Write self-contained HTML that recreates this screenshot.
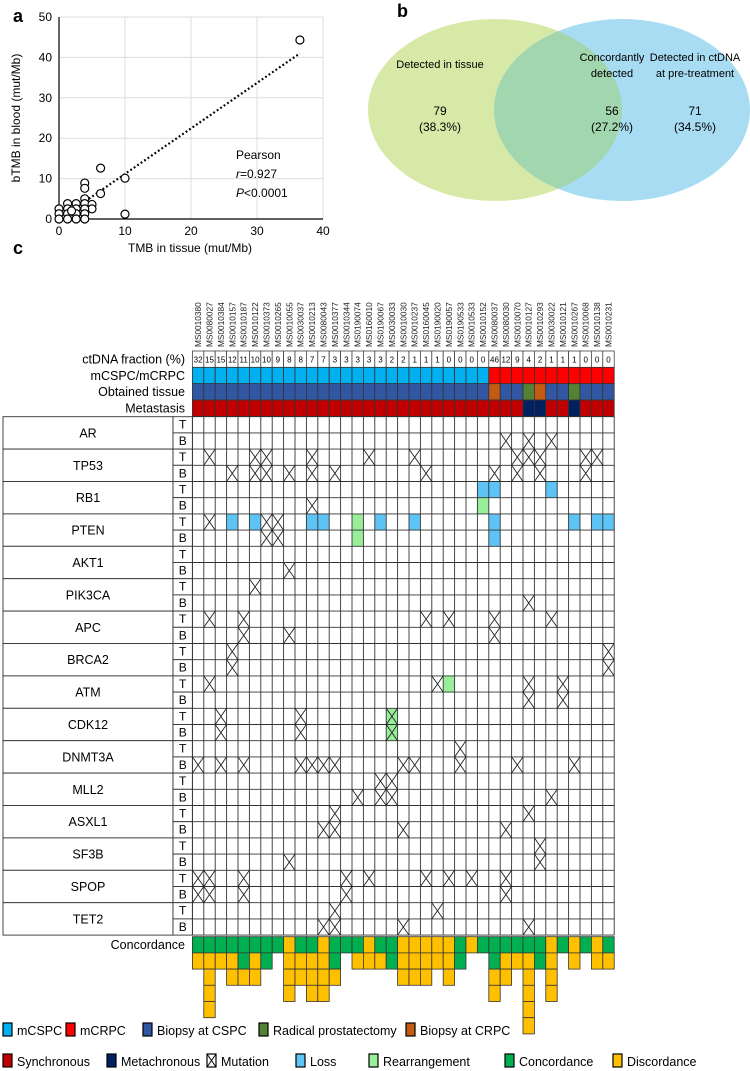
<!DOCTYPE html>
<html><head><meta charset="utf-8"><style>
body{margin:0;background:#fff;}
svg{display:block;font-family:"Liberation Sans",sans-serif;}
</style></head><body>
<svg id="fig" width="750" height="1071" viewBox="0 0 750 1071" xmlns="http://www.w3.org/2000/svg">
<defs><clipPath id="clipGreen"><ellipse cx="495" cy="110" rx="127" ry="91"/></clipPath></defs>
<g id="pa"></g>
<g id="pb"></g>
<g id="pc"></g>
<g id="lg"></g>
</svg>
<script>
// ---------- Panel a data ----------
const tissueTMB = [36.5,6.3,10,10,6.3,3.9,3.9,3.9,3.9,5,5,3.9,3.9,3.9,2.6,2.6,2.6,2.6,1.3,1.3,1.3,0,0,0,1.3,1.9];
const bloodTMB  = [44.3,12.6,10.1,1.2,6.3,8.9,7.6,5,3.8,3.6,2.5,2.5,1.3,0,3.8,2.5,1.3,0,3.8,2.5,1.3,2.5,1.3,0,0,2.0];
const xTicksA = [0,10,20,30,40];
const yTicksA = [0,10,20,30,40,50];
const trendX = [4,36.5];
const trendY = [4.4,41];

// ---------- Panel b data ----------
const vennCounts = [79,56,71];
const vennPct = ["(38.3%)","(27.2%)","(34.5%)"];

// ---------- Panel c data ----------
const sampleIds = ["MS0010380","MS0080027","MS0010384","MS0010157","MS0010187","MS0010122","MS0010373","MS0010265","MS0010055","MS0030037","MS0010213","MS0080043","MS0010377","MS0010344","MS0190074","MS0160010","MS0190067","MS0030033","MS0010030","MS0010237","MS0160045","MS0190020","MS0190057","MS0190533","MS0010533","MS0010152","MS0080037","MS0080030","MS0010070","MS0010127","MS0010293","MS0030022","MS0010121","MS0010267","MS0010068","MS0010138","MS0010231"];
const ctdnaFraction = [32,15,15,12,11,10,10,9,8,8,7,7,3,3,3,3,3,2,2,1,1,1,0,0,0,0,46,12,9,4,2,1,1,1,0,0,0];
const stage = [0,0,0,0,0,0,0,0,0,0,0,0,0,0,0,0,0,0,0,0,0,0,0,0,0,0,1,1,1,1,1,1,1,1,1,1,1];
const tissueType = [0,0,0,0,0,0,0,0,0,0,0,0,0,0,0,0,0,0,0,0,0,0,0,0,0,0,2,0,0,1,2,0,0,1,0,0,0];
const metastasis = [0,0,0,0,0,0,0,0,0,0,0,0,0,0,0,0,0,0,0,0,0,0,0,0,0,0,0,0,0,1,1,0,0,1,0,0,0];
const genes = ["AR","TP53","RB1","PTEN","AKT1","PIK3CA","APC","BRCA2","ATM","CDK12","DNMT3A","MLL2","ASXL1","SF3B","SPOP","TET2"];
const events = [
[0,1,27,"X"],[0,1,29,"X"],[0,1,31,"X"],
[1,0,1,"X"],[1,0,5,"X"],[1,0,6,"X"],[1,0,10,"X"],[1,0,15,"X"],[1,0,19,"X"],[1,0,28,"X"],[1,0,29,"X"],[1,0,30,"X"],[1,0,34,"X"],[1,0,35,"X"],
[1,1,3,"X"],[1,1,5,"X"],[1,1,6,"X"],[1,1,8,"X"],[1,1,10,"X"],[1,1,12,"X"],[1,1,20,"X"],[1,1,26,"X"],[1,1,28,"X"],[1,1,30,"X"],[1,1,34,"X"],
[2,0,25,"L"],[2,0,26,"L"],[2,0,31,"L"],[2,1,10,"X"],[2,1,25,"R"],
[3,0,1,"X"],[3,0,6,"X"],[3,0,7,"X"],[3,0,3,"L"],[3,0,5,"L"],[3,0,10,"L"],[3,0,11,"L"],[3,0,16,"L"],[3,0,19,"L"],[3,0,26,"L"],[3,0,33,"L"],[3,0,35,"L"],[3,0,36,"L"],[3,0,14,"R"],
[3,1,6,"X"],[3,1,7,"X"],[3,1,14,"R"],[3,1,26,"L"],
[4,1,8,"X"],
[5,0,5,"X"],[5,1,29,"X"],
[6,0,1,"X"],[6,0,4,"X"],[6,0,20,"X"],[6,0,22,"X"],[6,0,26,"X"],[6,0,31,"X"],[6,1,4,"X"],[6,1,8,"X"],[6,1,26,"X"],
[7,0,3,"X"],[7,0,36,"X"],[7,1,3,"X"],[7,1,36,"X"],
[8,0,1,"X"],[8,0,21,"X"],[8,0,29,"X"],[8,0,32,"X"],[8,0,22,"R"],[8,1,29,"X"],[8,1,32,"X"],
[9,0,2,"X"],[9,0,9,"X"],[9,0,17,"RX"],[9,1,2,"X"],[9,1,9,"X"],[9,1,17,"RX"],
[10,0,23,"X"],[10,1,0,"X"],[10,1,2,"X"],[10,1,4,"X"],[10,1,9,"X"],[10,1,10,"X"],[10,1,11,"X"],[10,1,12,"X"],[10,1,18,"X"],[10,1,19,"X"],[10,1,23,"X"],[10,1,28,"X"],[10,1,33,"X"],
[11,0,16,"X"],[11,0,17,"X"],[11,1,14,"X"],[11,1,16,"X"],[11,1,17,"X"],[11,1,31,"X"],
[12,0,12,"X"],[12,0,29,"X"],[12,1,11,"X"],[12,1,12,"X"],[12,1,18,"X"],[12,1,27,"X"],
[13,0,30,"X"],[13,1,8,"X"],[13,1,30,"X"],
[14,0,0,"X"],[14,0,1,"X"],[14,0,4,"X"],[14,0,13,"X"],[14,0,15,"X"],[14,0,20,"X"],[14,0,22,"X"],[14,0,24,"X"],[14,0,27,"X"],
[14,1,0,"X"],[14,1,1,"X"],[14,1,4,"X"],[14,1,13,"X"],[14,1,27,"X"],
[15,0,12,"X"],[15,0,21,"X"],[15,1,11,"X"],[15,1,12,"X"],[15,1,18,"X"],[15,1,29,"X"]
];
const concordCount = [1,1,1,1,2,1,2,1,0,1,1,0,2,1,1,0,1,2,0,0,0,0,0,2,0,1,2,1,1,1,2,0,1,0,1,0,1];
const discordCount = [1,4,1,2,1,2,0,0,4,2,3,4,1,0,1,2,1,0,3,3,3,2,3,0,1,0,2,2,1,5,0,4,0,2,0,2,1];

const NS="http://www.w3.org/2000/svg";
function mk(parent,tag,attrs,text){const e=document.createElementNS(NS,tag);for(const k in attrs)e.setAttribute(k,attrs[k]);if(text!==undefined)e.textContent=text;parent.appendChild(e);return e;}

// ===== Panel a =====
(function(){
const g=document.getElementById('pa');
const X0=59,XS=6.6,Y0=219,YS=4.04;
const sx=v=>X0+v*XS, sy=v=>Y0-v*YS;
let t=mk(g,'text',{x:13,y:22,'font-size':18,'font-weight':'bold'},'a');


xTicksA.forEach(v=>{
 if(v>0){let l=mk(g,'line',{x1:sx(v),x2:sx(v),y1:sy(50),y2:Y0,stroke:'#ddd','stroke-width':1});
 }
 let tx=mk(g,'text',{x:sx(v),y:Y0+16,'font-size':12,'text-anchor':'middle'},String(v));
 
 
});
yTicksA.forEach(v=>{
 if(v>0){let l=mk(g,'line',{x1:X0,x2:sx(40),y1:sy(v),y2:sy(v),stroke:'#ddd','stroke-width':1});
 }
 let ty=mk(g,'text',{x:X0-7,y:sy(v)+4,'font-size':12,'text-anchor':'end'},String(v));
 
 
});
let ax=mk(g,'line',{x1:X0,x2:X0,y1:sy(50),y2:Y0,stroke:'#000','stroke-width':1.2});

let ax2=mk(g,'line',{x1:X0,x2:sx(40),y1:Y0,y2:Y0,stroke:'#000','stroke-width':1.2});

let xt=mk(g,'text',{x:190,y:252,'font-size':12,'text-anchor':'middle'},'TMB in tissue (mut/Mb)');

let yt=mk(g,'text',{x:0,y:0,'font-size':12,'text-anchor':'middle',transform:'translate(20,118) rotate(-90)'},'bTMB in blood (mut/Mb)');

let tl=mk(g,'line',{x1:sx(trendX[0]),y1:sy(trendY[0]),x2:sx(trendX[1]),y2:sy(trendY[1]),stroke:'#000','stroke-width':2.2,'stroke-dasharray':'1.8 2.4'});

tissueTMB.forEach((v,i)=>{
 let c=mk(g,'circle',{cx:sx(v),cy:sy(bloodTMB[i]),r:4,fill:'#fff',stroke:'#000','stroke-width':1.2});
 
 
});
[['Pearson',false,159],['r=0.927',true,178],['P<0.0001',true,197]].forEach(a=>{
 let e=mk(g,'text',{x:236,y:a[2],'font-size':12});
 if(a[1]){mk(e,'tspan',{'font-style':'italic'},a[0][0]);mk(e,'tspan',{},a[0].slice(1));}else e.textContent=a[0];
 
});
})();

// ===== Panel b =====
(function(){
const g=document.getElementById('pb');
let t=mk(g,'text',{x:397,y:17,'font-size':18,'font-weight':'bold'},'b');

let e1=mk(g,'ellipse',{cx:495,cy:110,rx:127,ry:91,fill:'#d7e9a6'});

let e2=mk(g,'ellipse',{cx:622,cy:110,rx:128,ry:91,fill:'#a8dcf3'});

let e3=mk(g,'ellipse',{cx:622,cy:110,rx:128,ry:91,fill:'#a2d6ae','clip-path':'url(#clipGreen)'});

const labels=[[440,["Detected in tissue"]],[612,["Concordantly","detected"]],[695,["Detected in ctDNA","at pre-treatment"]]];
labels.forEach((L,i)=>{
 L[1].forEach((s,j)=>{let tx=mk(g,'text',{x:L[0],y:(L[1].length==1?68:61)+j*16,'font-size':11,'text-anchor':'middle'},s);
 });
 let n=mk(g,'text',{x:L[0],y:115,'font-size':12,'text-anchor':'middle'},String(vennCounts[i]));
 
 let p=mk(g,'text',{x:L[0],y:131,'font-size':12,'text-anchor':'middle'},vennPct[i]);
 
});
})();

// ===== Panel c =====
(function(){
const g=document.getElementById('pc');
const GX=192.4, CW=11.4, HY=351, HH=16.35, RY=416.7, RH=16.2, CY=936.7;
const colX=i=>GX+i*CW;
let t=mk(g,'text',{x:13,y:254,'font-size':18,'font-weight':'bold'},'c');

sampleIds.forEach((s,i)=>{
 let tx=mk(g,'text',{x:0,y:0,'font-size':8.3,fill:'#222',transform:`translate(${colX(i)+CW/2+3},347) rotate(-90)`},s);
 
});
const hdr=["ctDNA fraction (%)","mCSPC/mCRPC","Obtained tissue","Metastasis"];
hdr.forEach((h,r)=>{let tx=mk(g,'text',{x:185,y:HY+r*HH+12.5,'font-size':12.5,'text-anchor':'end'},h);
 });
const stageCol=['#00b0f0','#ff0000'], tisCol=['#3157a3','#548235','#c55a11'], metCol=['#c00000','#002060'];
ctdnaFraction.forEach((v,i)=>{
 let r=mk(g,'rect',{x:colX(i),y:HY,width:CW,height:HH,fill:'#fff',stroke:'#444','stroke-width':0.8});
 
 let tx=mk(g,'text',{x:colX(i)+CW/2,y:HY+11.5,'font-size':8,'text-anchor':'middle'},String(v));
 
 let a=mk(g,'rect',{x:colX(i),y:HY+HH,width:CW,height:HH,fill:stageCol[stage[i]],stroke:'#333','stroke-width':0.8});
 
 let b=mk(g,'rect',{x:colX(i),y:HY+2*HH,width:CW,height:HH,fill:tisCol[tissueType[i]],stroke:'#333','stroke-width':0.8});
 
 let c=mk(g,'rect',{x:colX(i),y:HY+3*HH,width:CW,height:HH,fill:metCol[metastasis[i]],stroke:'#333','stroke-width':0.8});
 
});
genes.forEach((gn,k)=>{
 const y=RY+k*2*RH;
 let b=mk(g,'rect',{x:3,y:y,width:170,height:2*RH,fill:'#fff',stroke:'#333','stroke-width':0.9});
 
 let tx=mk(g,'text',{x:88,y:y+RH+4.5,'font-size':12.5,'text-anchor':'middle'},gn);
 
 ['T','B'].forEach((s,j)=>{
  let r=mk(g,'rect',{x:173,y:y+j*RH,width:GX-173,height:RH,fill:'#fff',stroke:'#333','stroke-width':0.9});
  
  let st=mk(g,'text',{x:(173+GX)/2,y:y+j*RH+12,'font-size':12,'text-anchor':'middle'},s);
  
 });
});
events.forEach(ev=>{
 const x=colX(ev[2]), y=RY+(ev[0]*2+ev[1])*RH;
 if(ev[3]==='L'||ev[3]==='R'||ev[3]==='RX'){
  let r=mk(g,'rect',{x:x,y:y,width:CW,height:RH,fill:ev[3]==='L'?'#5ec4f6':'#99ee99'});
  
  
 }
});
for(let i=0;i<=sampleIds.length;i++){
 let l=mk(g,'line',{x1:colX(i),x2:colX(i),y1:RY,y2:RY+32*RH,stroke:'#333','stroke-width':0.9});
 
}
for(let r=0;r<=32;r++){
 let l=mk(g,'line',{x1:GX,x2:colX(sampleIds.length),y1:RY+r*RH,y2:RY+r*RH,stroke:'#333','stroke-width':0.9});
 
}
events.forEach(ev=>{
 if(ev[3]==='X'||ev[3]==='RX'){
  const x=colX(ev[2]), y=RY+(ev[0]*2+ev[1])*RH;
  let p=mk(g,'path',{d:`M${x} ${y}L${x+CW} ${y+RH}M${x+CW} ${y}L${x} ${y+RH}`,stroke:'#222','stroke-width':0.9,fill:'none'});
  
  
 }
});
let cl=mk(g,'text',{x:185,y:CY+12.5,'font-size':12.5,'text-anchor':'end'},'Concordance');

concordCount.forEach((c,i)=>{
 const n=c+discordCount[i];
 for(let k=0;k<n;k++){
  let r=mk(g,'rect',{x:colX(i),y:CY+k*RH,width:CW,height:RH,fill:k<c?'#00b050':'#ffc000',stroke:'#333','stroke-width':0.8});
  
  
 }
});
})();

// ===== Legend =====
(function(){
const g=document.getElementById('lg');
const items=[
 [3,1030,'#00b0f0','mCSPC','swatch'],[66,1030,'#ff0000','mCRPC','swatch'],[143,1030,'#3157a3','Biopsy at CSPC','swatch'],[259,1030,'#548235','Radical prostatectomy','swatch'],[406,1030,'#c55a11','Biopsy at CRPC','swatch'],
 [3,1061,'#c00000','Synchronous','swatch'],[107,1061,'#002060','Metachronous','swatch'],[207,1061,'#fff','Mutation','x'],[296,1061,'#5ec4f6','Loss','swatch'],[369,1061,'#99ee99','Rearrangement','swatch'],[505,1061,'#00b050','Concordance','swatch'],[613,1061,'#ffc000','Discordance','swatch']
];
items.forEach(it=>{
 let gi=mk(g,'g',{});
 
 
 mk(gi,'rect',{x:it[0],y:it[1]-7,width:9,height:13,fill:it[2],stroke:'#000','stroke-width':1.2});
 if(it[4]==='x')mk(gi,'path',{d:`M${it[0]} ${it[1]-7}L${it[0]+9} ${it[1]+6}M${it[0]+9} ${it[1]-7}L${it[0]} ${it[1]+6}`,stroke:'#000','stroke-width':1});
 mk(gi,'text',{x:it[0]+14,y:it[1]+5,'font-size':12.5},it[3]);
});
})();
</script>
</body></html>
